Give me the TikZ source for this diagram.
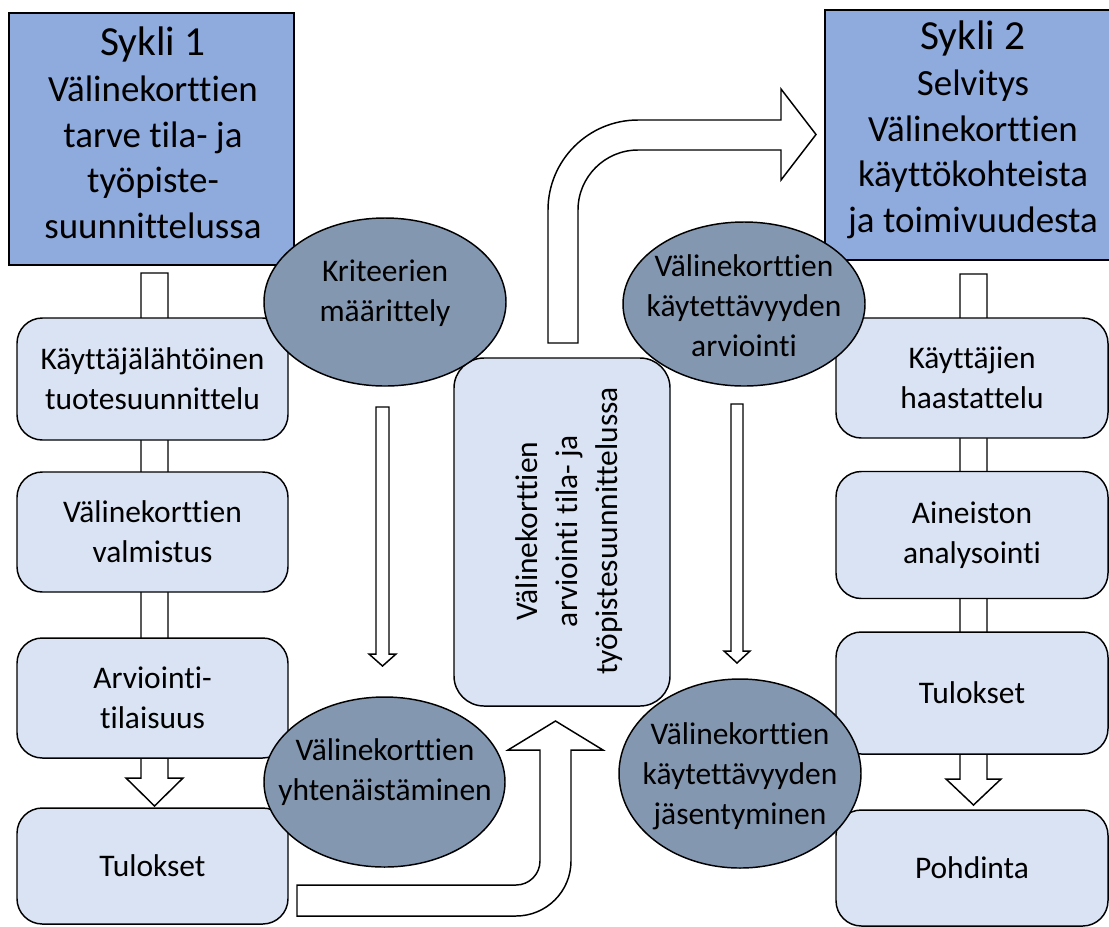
\documentclass[tikz,border=0pt]{standalone}
\usepackage{fontspec}
\setmainfont{Carlito}[Ligatures=NoCommon]
\usetikzlibrary{shapes.geometric}
\definecolor{syklifill}{RGB}{143,170,220}
\definecolor{boxfill}{RGB}{218,227,243}
\definecolor{ellfill}{RGB}{132,151,176}
\begin{document}
\begin{tikzpicture}[x=0.75pt,y=-0.75pt,
  wh/.style 2 args={minimum width=#1*0.75pt, minimum height=#2*0.75pt},
  sykli/.style={draw=black, line width=1.3pt, fill=syklifill, inner sep=0pt},
  syklitext/.style={align=center, inner sep=0pt, font=\fontsize{27.7}{34.3}\selectfont},
  stepbox/.style={draw=black, line width=1.1pt, fill=boxfill, rounded corners=19pt, align=center, inner sep=0pt, font=\fontsize{23.6}{30}\selectfont},
  phase/.style={ellipse, draw=black, line width=1.1pt, fill=ellfill, inner sep=0pt},
  phasetext/.style={align=center, font=\fontsize{23.6}{30}\selectfont, inner sep=0pt},
  blockarrow/.style={draw=black, line width=1.1pt, fill=white, line join=miter}
]
\useasboundingbox (0,0) rectangle (1109,926);

% column connectors (behind boxes)
\draw[blockarrow] (141,273) -- (168,273) -- (168,778) -- (183,778) -- (154.5,806) -- (126,778) -- (141,778) -- cycle;
\draw[blockarrow] (960,274) -- (987,274) -- (987,779) -- (1001,779) -- (973.5,805) -- (946,779) -- (960,779) -- cycle;

% cycle headers
\node[sykli, wh={285}{252}] (s1) at (151.5,139) {};
\node[syklitext] (s1t) at (153,133) {{\fontsize{31}{34.3}\selectfont Sykli 1}\\Välinekorttien\\tarve tila- ja\\työpiste-\\suunnittelussa};
\node[sykli, wh={296}{250}] (s2) at (973,135) {};
\node[syklitext] (s2t) at (973,130) {{\fontsize{31}{34.3}\selectfont Sykli 2}\\Selvitys\\Välinekorttien\\käyttökohteista\\ja toimivuudesta};

% left column
\node[stepbox, wh={271}{122}] (l1) at (152.5,379) {Käyttäjälähtöinen\\tuotesuunnittelu};
\node[stepbox, wh={271}{120}] (l2) at (152.5,532) {Välinekorttien\\valmistus};
\node[stepbox, wh={271}{120}] (l3) at (152.5,698) {Arviointi-\\tilaisuus};
\node[stepbox, wh={271}{116}] (l4) at (152.5,866) {Tulokset};

% right column
\node[stepbox, wh={272}{120}] (r1) at (972,378) {Käyttäjien\\haastattelu};
\node[stepbox, wh={272}{127}] (r2) at (972,535) {Aineiston\\analysointi};
\node[stepbox, wh={272}{122}] (r3) at (972,693) {Tulokset};
\node[stepbox, wh={272}{116}] (r4) at (972,868) {Pohdinta};

% central box
\node[stepbox, wh={216}{348}, rounded corners=22.5pt] (c) at (562,532) {};
\node[phasetext, rotate=90] (ct) at (569,531) {Välinekorttien\\arviointi tila- ja\\työpistesuunnittelussa};

% ellipses
\node[phase, wh={242}{168}] (e1) at (385,302) {};
\node[phasetext] (e1t) at (385,293) {Kriteerien\\määrittely};
\node[phase, wh={241}{170}] (e2) at (384.5,782) {};
\node[phasetext] (e2t) at (385,772) {Välinekorttien\\yhtenäistäminen};
\node[phase, wh={242}{164}] (e3) at (744,304) {};
\node[phasetext] (e3t) at (744,306) {Välinekorttien\\käytettävyyden\\arviointi};
\node[phase, wh={242}{189}] (e4) at (740,773.5) {};
\node[phasetext] (e4t) at (740,776) {Välinekorttien\\käytettävyyden\\jäsentyminen};

% thin arrows
\draw[blockarrow] (376,407) -- (389,407) -- (389,654) -- (396,654) -- (382.5,666) -- (369,654) -- (376,654) -- cycle;
\draw[blockarrow] (731,404) -- (743,404) -- (743,651) -- (750,651) -- (737,663) -- (724,651) -- (731,651) -- cycle;

% bent arrow up-right
\draw[blockarrow] (548,343) -- (548,210) .. controls (548,160.3) and (588.3,120) .. (638,120) -- (781,120) -- (781,89) -- (816,134.5) -- (781,180) -- (781,150) -- (638,150) .. controls (604.9,150) and (578,176.9) .. (578,210) -- (578,343) -- cycle;

% bent arrow right-up
\draw[blockarrow] (297,885) -- (516,885) .. controls (529.25,885) and (540,874.25) .. (540,861) -- (540,750) -- (508,750) -- (555.5,721) -- (603,750) -- (571,750) -- (571,861) .. controls (571,891.4) and (546.4,916) .. (516,916) -- (297,916) -- cycle;
\end{tikzpicture}
\end{document}
